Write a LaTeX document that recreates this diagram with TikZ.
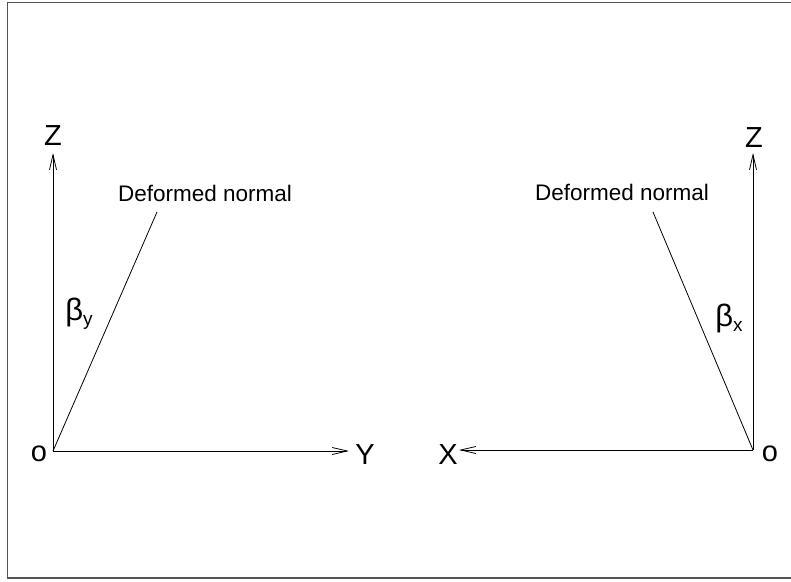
\documentclass[tikz,border=0pt]{standalone}
\usepackage{fontspec}
\setmainfont{Liberation Sans}
\usetikzlibrary{arrows.meta,positioning}
\definecolor{rimink}{RGB}{85,85,85}
\newcommand{\angsub}[1]{\raisebox{-5pt}{\fontsize{19}{20}\selectfont #1}}
\tikzset{
  axarr/.style={-{Straight Barb[length=15pt,width=7pt]}, line width=0.8pt},
  nline/.style={line width=0.8pt},
  lbl/.style={inner sep=0pt, font=\fontsize{29}{30}\selectfont},
  nametxt/.style={inner sep=0pt, font=\fontsize{22.5}{24}\selectfont},
  ang/.style={inner sep=0pt, font=\fontsize{31}{32}\selectfont},
  rim/.style={draw=rimink, line width=1.5pt}
}
\begin{document}
\begin{tikzpicture}[x=1pt,y=-1pt]
  \useasboundingbox (0,0) rectangle (791,581);
  \draw[rim] (800,2.5) -- (7.5,2.5) -- (7.5,578) -- (800,578);
  % left: Y-Z plane
  \coordinate (oL) at (53,451);
  \coordinate (zL) at (53,153);
  \coordinate (yL) at (349,451);
  \coordinate (nL) at (157,212);
  \node[lbl] (oLt) at (39,454) {o};
  \node[lbl] (zLt) at (53,136) {Z};
  \node[lbl] (yLt) at (365,455) {Y};
  \node[nametxt] (nLt) at (205,193) {Deformed normal};
  \node[ang] (bL) at (79,314) {β\angsub{y}};
  \draw[axarr] (oL) -- (zL);
  \draw[axarr] (oL) -- (yL);
  \draw[nline] (oL) -- (nL);
  % right: X-Z plane
  \coordinate (oR) at (753,450);
  \coordinate (zR) at (753,153);
  \coordinate (xR) at (459,450);
  \coordinate (nR) at (653,212);
  \node[lbl] (oRt) at (770,454) {o};
  \node[lbl] (zRt) at (754,138) {Z};
  \node[lbl] (xRt) at (448,455) {X};
  \node[nametxt] (nRt) at (622,192) {Deformed normal};
  \node[ang] (bR) at (729,318) {β\angsub{x}};
  \draw[axarr] (oR) -- (zR);
  \draw[axarr] (oR) -- (xR);
  \draw[nline] (oR) -- (nR);
\end{tikzpicture}
\end{document}
